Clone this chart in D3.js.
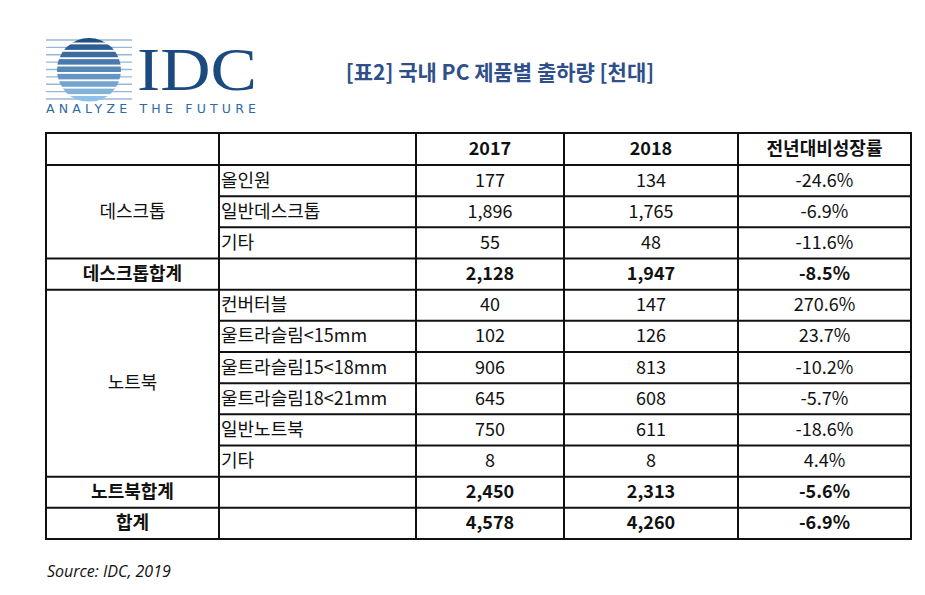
<!DOCTYPE html>
<html><head><meta charset="utf-8">
<script src="https://cdn.jsdelivr.net/npm/d3@7"></script>
<style>body{margin:0;background:#fff}</style>
</head><body>
<script>
const headers = ['', '', '2017', '2018', '전년대비성장률'];
const groups = ['데스크톱', '데스크톱합계', '노트북', '노트북합계', '합계'];
const items = ['올인원', '일반데스크톱', '기타', '', '컨버터블', '울트라슬림<15mm', '울트라슬림15<18mm', '울트라슬림18<21mm', '일반노트북', '기타', '', ''];
const v2017 = ['177', '1,896', '55', '2,128', '40', '102', '906', '645', '750', '8', '2,450', '4,578'];
const v2018 = ['134', '1,765', '48', '1,947', '147', '126', '813', '608', '611', '8', '2,313', '4,260'];
const growth = ['-24.6%', '-6.9%', '-11.6%', '-8.5%', '270.6%', '23.7%', '-10.2%', '-5.7%', '-18.6%', '4.4%', '-5.6%', '-6.9%'];
// group spans: [start row, row count, bold]
const spans = [[0, 3, false], [3, 1, true], [4, 6, false], [10, 1, true], [11, 1, true]];

const W = 925, H = 595;
const svg = d3.select('body').append('svg').attr('width', W).attr('height', H);
const font = "'Noto Sans CJK KR', 'Open Sans', sans-serif";

// logo
const logo = svg.append('g');
const cx = 89, cy = 70, r = 32;
const stripes = d3.range(9);
const sy = d3.scaleLinear().domain([0, 8]).range([cy - r + 2, cy + r - 3]);
const sc = d3.scaleLinear().domain([0, 8]).range(['#1f4f86', '#8fc0e8']);
logo.append('defs').append('clipPath').attr('id', 'cc').append('circle').attr('cx', cx).attr('cy', cy).attr('r', r);
logo.selectAll('line.l').data(stripes).join('line')
  .attr('x1', 46).attr('x2', 132).attr('y1', d => sy(d)).attr('y2', d => sy(d))
  .attr('stroke', '#9ab7d4').attr('stroke-width', 1.3);
logo.append('g').attr('clip-path', 'url(#cc)').selectAll('rect').data(stripes).join('rect')
  .attr('x', cx - r).attr('width', 2 * r).attr('y', d => sy(d) - 3).attr('height', 5.5)
  .attr('fill', d => sc(d));
logo.append('text').attr('x', 137).attr('y', 90).text('IDC')
  .attr('font-family', "'Liberation Serif', serif").attr('font-size', 62)
  .attr('fill', '#1b4a7e').attr('textLength', 120).attr('lengthAdjust', 'spacingAndGlyphs');
logo.append('text').attr('x', 46).attr('y', 113).text('ANALYZE THE FUTURE')
  .attr('font-family', "'DejaVu Sans', sans-serif").attr('font-size', 12.5)
  .attr('fill', '#2a6aa8').attr('textLength', 210).attr('lengthAdjust', 'spacing');

svg.append('text').attr('x', 500).attr('y', 80).attr('text-anchor', 'middle')
  .text('[표2] 국내 PC 제품별 출하량 [천대]')
  .attr('font-family', font).attr('font-size', 21).attr('font-weight', 'bold').attr('fill', '#2f4f8a');

// table
const colX = [46, 219, 416, 564, 738, 911];
const tTop = 133, hh = 32, nRows = 12, tBot = 539;
const y = d3.scaleLinear().domain([0, nRows]).range([tTop + hh, tBot]);
const t = svg.append('g').attr('font-family', font).attr('font-size', 18).attr('fill', '#111');

const lines = svg.append('g').attr('stroke', '#111').attr('stroke-width', 2);
lines.append('rect').attr('x', colX[0]).attr('y', tTop).attr('width', colX[5] - colX[0]).attr('height', tBot - tTop).attr('fill', 'none');
lines.selectAll('line.v').data(colX.slice(1, 5)).join('line')
  .attr('x1', d => d).attr('x2', d => d).attr('y1', tTop).attr('y2', tBot);
// horizontal lines: across whole width at group boundaries, else from col 1
const hRows = d3.range(0, nRows);
lines.selectAll('line.h').data(hRows).join('line')
  .attr('x1', i => spans.some(s => s[0] === i) ? colX[0] : colX[1])
  .attr('x2', colX[5]).attr('y1', i => y(i)).attr('y2', i => y(i));

const rowH = y(1) - y(0);
t.selectAll('text.hd').data(headers).join('text')
  .attr('x', (d, i) => (colX[i] + colX[i + 1]) / 2).attr('y', tTop + hh / 2 + 6)
  .attr('text-anchor', 'middle').attr('font-weight', 'bold').text(d => d);

t.selectAll('text.g').data(spans).join('text')
  .attr('x', (colX[0] + colX[1]) / 2).attr('y', s => y(s[0]) + s[1] * rowH / 2 + 6)
  .attr('text-anchor', 'middle').attr('font-weight', s => s[2] ? 'bold' : 'normal')
  .text((s, i) => groups[i]);

const boldRow = i => spans.some(s => s[2] && s[0] === i);
t.selectAll('text.it').data(items).join('text')
  .attr('x', colX[1] + 2).attr('y', (d, i) => y(i) + rowH / 2 + 6).text(d => d);
[v2017, v2018, growth].forEach((arr, c) => {
  t.append('g').selectAll('text').data(arr).join('text')
    .attr('x', (colX[c + 2] + colX[c + 3]) / 2).attr('y', (d, i) => y(i) + rowH / 2 + 6)
    .attr('text-anchor', 'middle').attr('font-weight', (d, i) => boldRow(i) ? 'bold' : 'normal')
    .text(d => d);
});

svg.append('text').attr('x', 47).attr('y', 577).text('Source: IDC, 2019')
  .attr('font-family', "'Open Sans', sans-serif").attr('font-style', 'italic').attr('font-size', 16).attr('fill', '#111');
</script>
</body></html>
